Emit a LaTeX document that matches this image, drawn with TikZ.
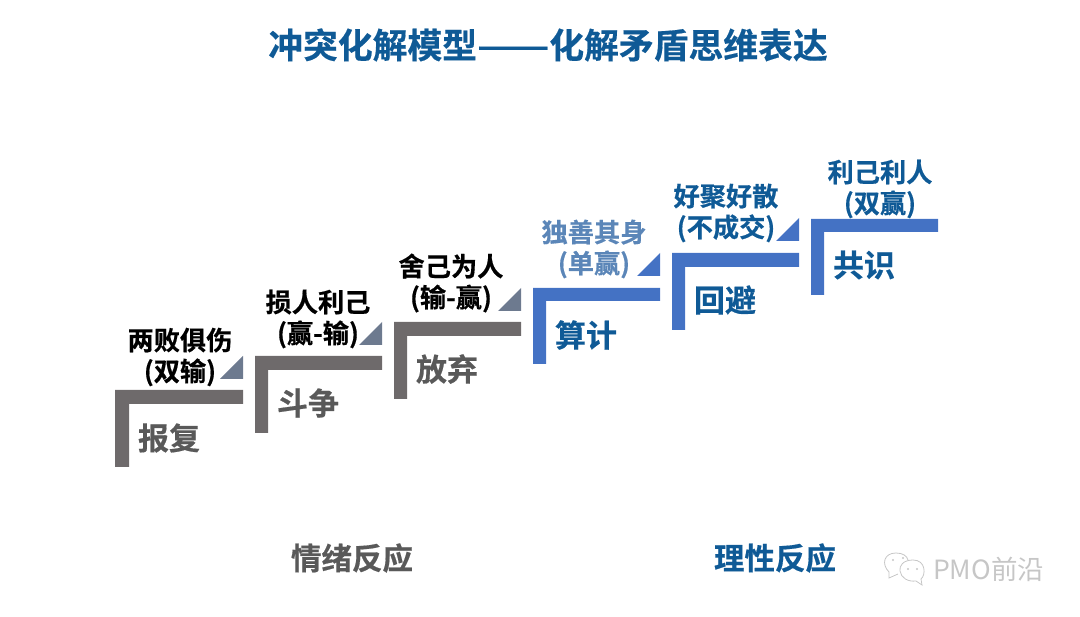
\documentclass[tikz,border=0pt]{standalone}
\usepackage{fontspec}
\setmainfont{Noto Sans CJK SC}[BoldFont={Noto Sans CJK SC Bold}, BoldFeatures={FakeBold=0.5}]
\usepackage{graphicx}
\usepackage{tikz}
\usetikzlibrary{positioning}

\definecolor{titleblue}{HTML}{0F5A96}
\definecolor{stairgray}{HTML}{6E6A6B}
\definecolor{stairblue}{HTML}{4472C4}
\definecolor{wedgegray}{HTML}{6D7A8F}
\definecolor{softblue}{HTML}{5B86B8}
\definecolor{textgray}{HTML}{595959}
\definecolor{markgray}{HTML}{C6C6C6}

\begin{document}
\begin{tikzpicture}[x=1pt, y=-1pt,
    heading/.style={font=\fontsize{34.8}{42}\selectfont\bfseries, text=titleblue, inner sep=0pt},
    outcome/.style={font=\fontsize{26.2}{31}\selectfont\bfseries, align=center, inner sep=0pt},
    reaction/.style={font=\fontsize{31}{36}\selectfont\bfseries, inner sep=0pt},
    group/.style={font=\fontsize{30.5}{36}\selectfont\bfseries, inner sep=0pt},
    brandmark/.style={font=\fontsize{26.5}{30}\selectfont, text=markgray, inner sep=0pt}]
    \useasboundingbox (0,0) rectangle (1080,617);

    \node (title) [heading] at (548,45) {冲突化解模型\scalebox{1.22}[1]{——}化解矛盾思维表达};

    % stairs
    \fill[stairgray] (115,390) -- (243,390) -- (243,404) -- (129,404) -- (129,467) -- (115,467) -- cycle;
    \fill[stairgray] (255,356) -- (382,356) -- (382,370) -- (268,370) -- (268,433) -- (255,433) -- cycle;
    \fill[stairgray] (394,322) -- (521,322) -- (521,336) -- (407,336) -- (407,399) -- (394,399) -- cycle;
    \fill[stairblue] (533,288) -- (660,288) -- (660,301) -- (546,301) -- (546,364) -- (533,364) -- cycle;
    \fill[stairblue] (672,253) -- (799,253) -- (799,267) -- (685,267) -- (685,330) -- (672,330) -- cycle;
    \fill[stairblue] (811,219) -- (938,219) -- (938,232) -- (824,232) -- (824,295) -- (811,295) -- cycle;

    % wedges
    \fill[wedgegray] (220,379) -- (243,356) -- (243,379) -- cycle;
    \fill[wedgegray] (359,345) -- (382,322) -- (382,345) -- cycle;
    \fill[wedgegray] (498,311) -- (521,288) -- (521,311) -- cycle;
    \fill[stairblue] (637,276) -- (660,253) -- (660,276) -- cycle;
    \fill[stairblue] (776,241) -- (799,218) -- (799,241) -- cycle;

    \node (lose) [outcome, text=black] at (180,357) {两败俱伤\\(双输)};
    \node (hurt) [outcome, text=black] at (318,319) {损人利己\\(赢-输)};
    \node (give) [outcome, text=black] at (451,283) {舍己为人\\(输-赢)};
    \node (self) [outcome, text=softblue] at (594,249) {独善其身\\(单赢)};
    \node (part) [outcome, text=titleblue] at (726,213) {好聚好散\\(不成交)};
    \node (both) [outcome, text=titleblue] at (880,189) {利己利人\\(双赢)};

    \node (revenge) [reaction, text=textgray] at (169,438) {报复};
    \node (fight) [reaction, text=textgray] at (308,403) {斗争};
    \node (yield) [reaction, text=textgray] at (447,369) {放弃};
    \node (scheme) [reaction, text=titleblue] at (586,335) {算计};
    \node (avoid) [reaction, text=titleblue] at (725,300) {回避};
    \node (agree) [reaction, text=titleblue] at (864,265) {共识};

    \node (emotion) [group, text=textgray] at (352,558) {情绪反应};
    \node (reason) [group, text=titleblue] at (775,558) {理性反应};

    % watermark
    \draw[markgray, line width=0.8pt] (889,572) .. controls (881,564) and (884,553) .. (896,553) .. controls (903,553) and (907,556) .. (908,560);
    \draw[markgray, line width=0.8pt] (889,572) -- (889,578) -- (898,574);
    \draw[markgray, line width=0.8pt] (913,560) .. controls (903,560) and (899,566) .. (900,571) .. controls (901,578) and (908,582) .. (916,581) -- (922,585) -- (921,579) .. controls (926,575) and (926,560) .. (913,560) -- cycle;
    \fill[markgray] (893,560) circle (1.2) (903,558) circle (1.2) (908,569) circle (1.2) (917,569) circle (1.2);
    \node (brand) [brandmark, anchor=west] at (933,569) {PMO前沿};
\end{tikzpicture}
\end{document}
